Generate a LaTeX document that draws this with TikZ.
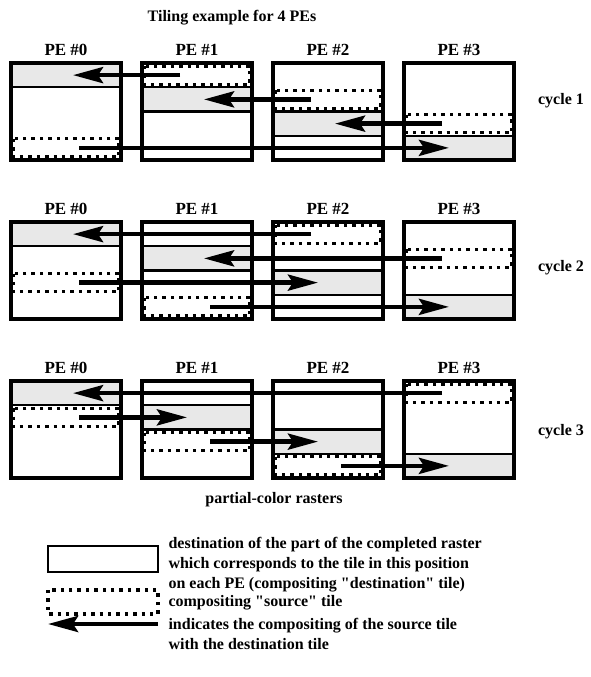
\documentclass[tikz,border=0pt]{standalone}
\usepackage{fontspec}
\setmainfont{Liberation Serif}[Ligatures=TeXOff]
\usetikzlibrary{arrows.meta}
\begin{document}
\begin{tikzpicture}[x=1pt,y=-1pt,line join=miter,
	font=\bfseries\fontsize{16}{20}\selectfont]
	\tikzset{
		pebox/.style={line width=3.2pt},
		desttile/.style={fill=black!9,line width=2.4pt},
		srctile/.style={line width=3.4pt,dash pattern=on 3.4pt off 5pt},
		compose/.style={line width=4.4pt,-{Stealth[length=30pt,width=16pt,inset=5pt]}},
		pelabel/.style={font=\bfseries\fontsize{17}{18}\selectfont},
	}
	\useasboundingbox (0,0) rectangle (590,677);
	\def\w{110}
	\def\h{97}

	% 标题
	\node (title) at (232,18) {Tiling example for 4 PEs};

	% 三个周期：每个 PE 的方框、目标块与源块
	\foreach \c/\ytop/\off/\ly in {1/63/3/101,2/222/2/268,3/381/1/432}{
		\foreach \p in {0,...,3}{
			\pgfmathsetmacro{\lx}{11+131*\p}
			\pgfmathtruncatemacro{\srow}{mod(\p+\off,4)}
			% 目标块
			\draw[desttile] (\lx,{\ytop+\p*\h/4}) rectangle ++(\w,\h/4);
			% 源块
			\draw[srctile] ({\lx+2},{\ytop+\srow*\h/4+3}) rectangle ({\lx+\w-2},{\ytop+(\srow+1)*\h/4-3});
			% PE 方框
			\draw[pebox] (\lx,\ytop) rectangle ++(\w,\h);
			\node[pelabel] (pe\c\p) at ({\lx+\w/2},{\ytop-13}) {PE \#\p};
		}
		% 合成箭头
		\foreach \t in {0,...,3}{
			\pgfmathtruncatemacro{\src}{mod(\t-\off+4,4)}
			\pgfmathsetmacro{\ax}{\src>\t ? 11+131*\src+38 : 11+131*\src+68}
			\pgfmathsetmacro{\bx}{\src>\t ? 11+131*\t+62 : 11+131*\t+45}
			\pgfmathsetmacro{\ay}{\ytop+(\t+0.5)*\h/4}
			\coordinate (tail\c\t) at (\ax,\ay);
			\coordinate (tip\c\t) at (\bx,\ay);
			\draw[compose] (tail\c\t) -- (tip\c\t);
		}
		\node (cycle\c) at (561,\ly) {cycle \c};
	}

	\node (rasters) at (274,500) {partial-color rasters};

	% 图例
	\draw[desttile,fill=white] (48,546) rectangle (158,572);
	\draw[srctile] (48,590) rectangle (158,614);
	\coordinate (legtail) at (158,624);
	\coordinate (legtip) at (48,624);
	\draw[compose] (legtail) -- (legtip);
	\node[anchor=west,align=left] (legdest) at (165,565) {destination of the part of the completed raster\\which corresponds to the tile in this position\\on each PE (compositing "destination" tile)};
	\node[anchor=west] (legsrc) at (165,603) {compositing "source" tile};
	\node[anchor=west,align=left] (legarr) at (165,634) {indicates the compositing of the source tile\\with the destination tile};
\end{tikzpicture}
\end{document}
